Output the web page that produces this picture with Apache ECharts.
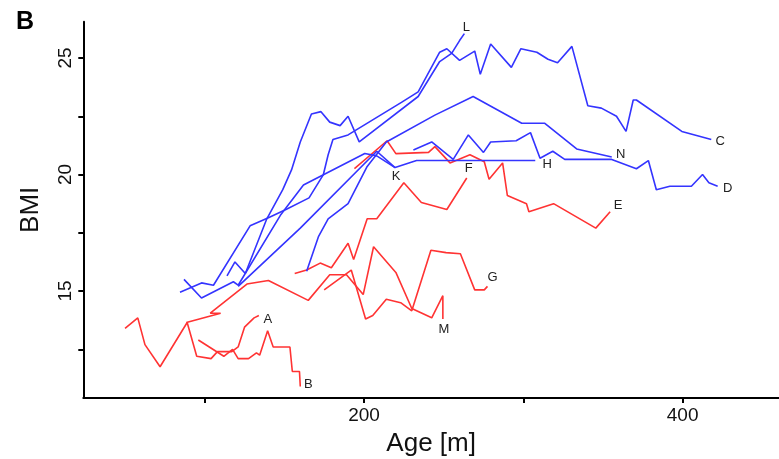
<!DOCTYPE html>
<html>
<head>
<meta charset="utf-8">
<script src="https://cdn.jsdelivr.net/npm/echarts@6/dist/echarts.min.js"></script>
<style>
html,body{margin:0;padding:0;background:#fff;}
#chart{width:779px;height:459px;}
</style>
</head>
<body>
<div id="chart"></div>
<script>
// ---- data (Age [m], BMI) ----
const ageA = [50, 58, 62.5, 72, 89, 95, 104, 108, 117, 121, 125, 131, 134];
const bmiA = [13.4, 13.85, 12.7, 11.75, 13.65, 12.2, 12.1, 12.4, 12.4, 12.6, 13.45, 13.85, 13.95];

const ageB = [96, 112, 117.5, 121, 127.5, 132.5, 134.5, 139.5, 143, 153.5, 155, 159.5, 160];
const bmiB = [12.9, 12.2, 12.5, 12.1, 12.1, 12.35, 12.25, 13.3, 12.6, 12.6, 11.55, 11.55, 10.9];

const ageM = [88.5, 110, 103.5, 126.5, 140, 165, 178.5, 189, 199.5, 206, 220, 230, 242.5, 249.5, 249.5];
const bmiM = [13.65, 14.05, 14.05, 15.3, 15.45, 14.6, 15.7, 15.7, 14.85, 16.9, 15.8, 14.25, 13.85, 14.8, 13.8];

const ageG = [175, 192, 201, 205.5, 214, 223, 230, 242, 251.5, 260.5, 269.5, 275.5, 277.5];
const bmiG = [15.05, 15.9, 13.8, 13.95, 14.65, 14.5, 14.15, 16.75, 16.65, 16.6, 15.05, 15.05, 15.2];

const ageF = [156.5, 164, 172.5, 179.5, 190, 193.5, 202, 208, 225, 236, 252, 264.5];
const bmiF = [15.75, 15.9, 16.2, 16.0, 17.05, 16.35, 18.1, 18.1, 19.65, 18.8, 18.5, 19.85];

const ageE = [194, 214.5, 220, 240.5, 244.5, 254, 266.5, 275.5, 278.5, 287, 290, 302, 303.5, 319, 345.5, 354.5];
const bmiE = [20.25, 21.45, 20.9, 20.95, 21.2, 20.5, 20.85, 20.55, 19.8, 20.5, 19.1, 18.75, 18.4, 18.75, 17.7, 18.4];

const ageL = [114, 119, 125.5, 139, 149, 154.5, 160, 167, 173, 178.5, 185, 190, 197, 234, 247.5, 255, 260, 263];
const bmiL = [15.65, 16.25, 15.75, 18.1, 19.35, 20.2, 21.4, 22.6, 22.7, 22.25, 22.1, 22.5, 21.4, 23.35, 24.85, 25.2, 25.75, 26.05];

const ageC = [84.5, 98, 105.5, 128.5, 140, 151, 165.5, 174.5, 177.5, 180.5, 190, 223.5, 234, 247.5, 252, 260, 269.5, 273, 279.5, 292.5, 298.5, 308.5, 315.5, 321.5, 330.5, 340.5, 349, 358.5, 364.5, 369, 371, 399.5, 418];
const bmiC = [14.95, 15.35, 15.25, 17.8, 18.15, 18.5, 19.0, 20.0, 20.85, 21.5, 21.7, 23.1, 23.55, 25.25, 25.4, 24.9, 25.3, 24.3, 25.6, 24.6, 25.4, 25.25, 24.95, 24.8, 25.5, 22.95, 22.85, 22.5, 21.85, 23.2, 23.2, 21.85, 21.5];

const ageK = [87, 98, 118, 121, 147.5, 162, 200.5, 208, 219.5];
const bmiK = [15.5, 14.7, 15.4, 15.25, 18.25, 19.55, 20.9, 20.8, 20.3];

const ageH = [121, 160, 208, 219.5, 233, 307.5];
const bmiH = [15.2, 17.7, 21.0, 20.3, 20.6, 20.6];

const ageN = [164, 171.5, 177.5, 190, 202, 214, 244.5, 268.5, 299, 313.5, 333.5, 355.5];
const bmiN = [15.85, 17.35, 18.1, 18.75, 20.35, 21.4, 22.55, 23.35, 22.2, 22.2, 21.1, 20.75];

const ageD = [231, 242.5, 256, 265.5, 275, 279.5, 295.5, 304.5, 310.5, 318.5, 326, 355.5, 371, 378.5, 383.5, 392, 405.5, 412.5, 416.5, 422];
const bmiD = [21.05, 21.4, 20.65, 21.7, 20.95, 21.4, 21.45, 21.8, 20.7, 21.0, 20.65, 20.65, 20.25, 20.6, 19.35, 19.5, 19.5, 20.0, 19.65, 19.5];

const xTicks = [100, 200, 300, 400];
const xLabels = [200, 400];
const yTicks = [12.5, 15, 17.5, 20, 22.5, 25];
const yLabels = [15, 20, 25];

// ---- styling ----
const RED = '#ff3333';
const BLUE = '#3434ff';
const FONT = '"Liberation Sans", Arial, sans-serif';

const seriesDefs = [
  {name: 'A', age: ageA, bmi: bmiA, color: RED,  off: [9, 4]},
  {name: 'B', age: ageB, bmi: bmiB, color: RED,  off: [8, -2]},
  {name: 'M', age: ageM, bmi: bmiM, color: RED,  off: [1, 10]},
  {name: 'G', age: ageG, bmi: bmiG, color: RED,  off: [5, -9]},
  {name: 'F', age: ageF, bmi: bmiF, color: RED,  off: [2, -10]},
  {name: 'E', age: ageE, bmi: bmiE, color: RED,  off: [8, -6]},
  {name: 'L', age: ageL, bmi: bmiL, color: BLUE, off: [2, -6]},
  {name: 'C', age: ageC, bmi: bmiC, color: BLUE, off: [9, 2]},
  {name: 'K', age: ageK, bmi: bmiK, color: BLUE, off: [1, 9]},
  {name: 'H', age: ageH, bmi: bmiH, color: BLUE, off: [12, 4]},
  {name: 'N', age: ageN, bmi: bmiN, color: BLUE, off: [9, -3]},
  {name: 'D', age: ageD, bmi: bmiD, color: BLUE, off: [10, 2]}
];

const series = seriesDefs.map(d => ({
  type: 'line',
  name: d.name,
  data: d.age.map((a, i) => [a, d.bmi[i]]),
  showSymbol: false,
  symbol: 'none',
  lineStyle: {color: d.color, width: 1.6},
  itemStyle: {color: d.color},
  emphasis: {disabled: true},
  endLabel: {
    show: true,
    formatter: d.name,
    distance: 0,
    offset: d.off,
    align: 'center',
    verticalAlign: 'middle',
    color: '#222',
    fontSize: 13,
    fontFamily: FONT
  }
}));

const chart = echarts.init(document.getElementById('chart'), null, {renderer: 'canvas'});
chart.setOption({
  animation: false,
  backgroundColor: '#fff',
  grid: {left: 83.3, right: 0, top: 21.7, bottom: 61, outerBoundsMode: 'none'},
  xAxis: {
    type: 'value',
    min: 23.8,
    max: 460.5,
    name: 'Age [m]',
    nameLocation: 'middle',
    nameGap: 33,
    nameTextStyle: {fontSize: 26, color: '#111', fontFamily: FONT},
    axisLine: {show: true, onZero: false, lineStyle: {color: '#000', width: 2}},
    axisTick: {show: true, length: 5, lineStyle: {color: '#000', width: 2}, customValues: xTicks},
    axisLabel: {fontSize: 19, color: '#111', fontFamily: FONT, margin: 8, customValues: xLabels},
    splitLine: {show: false}
  },
  yAxis: {
    type: 'value',
    min: 10.41,
    max: 26.56,
    name: 'BMI',
    nameLocation: 'middle',
    nameGap: 39,
    nameTextStyle: {fontSize: 26, color: '#111', fontFamily: FONT},
    axisLine: {show: true, onZero: false, lineStyle: {color: '#000', width: 2}},
    axisTick: {show: true, length: 5, lineStyle: {color: '#000', width: 2}, customValues: yTicks},
    axisLabel: {fontSize: 19, color: '#111', fontFamily: FONT, margin: 8, rotate: 90, customValues: yLabels},
    splitLine: {show: false}
  },
  graphic: [{
    type: 'text',
    left: 16,
    top: 10,
    style: {text: 'B', font: 'bold 25px ' + FONT, fill: '#000'}
  }],
  series: series
});
</script>
</body>
</html>
